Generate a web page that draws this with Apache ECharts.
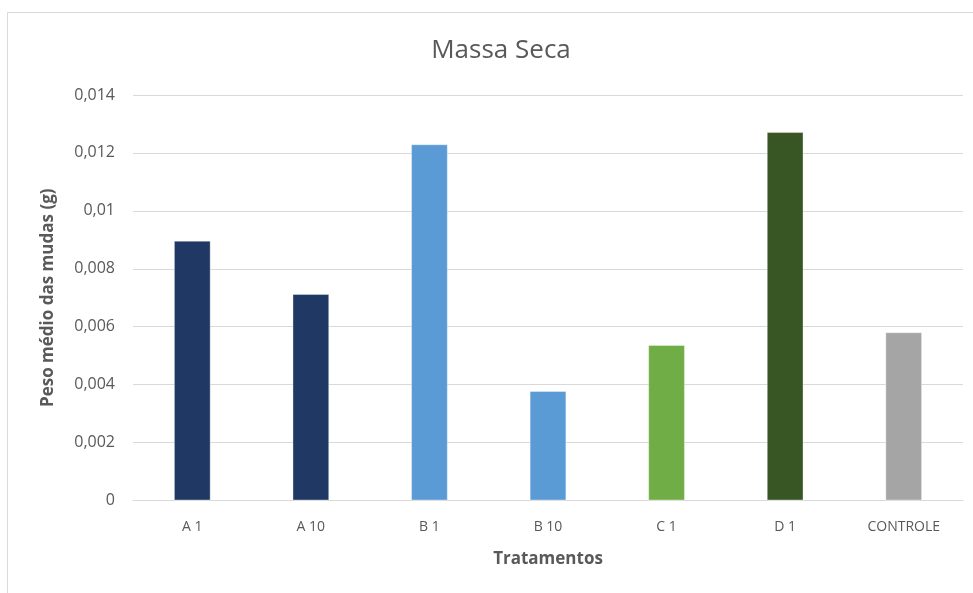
<!DOCTYPE html>
<html>
<head>
<meta charset="utf-8">
<script src="https://cdn.jsdelivr.net/npm/echarts@6/dist/echarts.min.js"></script>
<style>
  html, body { margin: 0; padding: 0; background: #fff; }
  #main { width: 973px; height: 593px; }
</style>
</head>
<body>
<div id="main"></div>
<script>
// dados
var categorias = ['A 1', 'A 10', 'B 1', 'B 10', 'C 1', 'D 1', 'CONTROLE'];
var valores = [0.00897, 0.00713, 0.0123, 0.00378, 0.00537, 0.01272, 0.00581];
var cores = ['#1F3864', '#1F3864', '#5B9BD5', '#5B9BD5', '#70AD47', '#375623', '#A5A5A5'];

var chart = echarts.init(document.getElementById('main'));

var fonte = '"Open Sans", "Noto Sans", sans-serif';

chart.setOption({
    animation: false,
    textStyle: { fontFamily: fonte },
    title: {
        text: 'Massa Seca',
        left: 496,
        top: 33,
        textAlign: 'center',
        textStyle: { fontSize: 26, fontWeight: 'normal', color: '#595959', fontFamily: fonte }
    },
    graphic: [{
        type: 'rect',
        shape: { x: 7.5, y: 12.5, width: 1000, height: 700 },
        style: { fill: 'none', stroke: '#d9d9d9', lineWidth: 1 },
        z: -1
    }],
    grid: { left: 133, right: 10, top: 95, bottom: 92.5 },
    xAxis: {
        type: 'category',
        data: categorias,
        name: 'Tratamentos',
        nameLocation: 'middle',
        nameGap: 50,
        nameTextStyle: { fontSize: 17, fontWeight: 'bold', color: '#595959' },
        axisLine: { lineStyle: { color: '#d9d9d9' } },
        axisTick: { show: false },
        axisLabel: { fontSize: 14, color: '#595959', margin: 20 }
    },
    yAxis: {
        type: 'value',
        min: 0,
        max: 0.014,
        interval: 0.002,
        name: 'Peso médio das mudas (g)',
        nameLocation: 'middle',
        nameGap: 76,
        nameTextStyle: { fontSize: 17, fontWeight: 'bold', color: '#595959' },
        axisLine: { show: false },
        axisTick: { show: false },
        splitLine: { lineStyle: { color: '#d9d9d9' } },
        axisLabel: {
            fontSize: 16,
            color: '#595959',
            margin: 18,
            formatter: function (v) {
                return String(parseFloat(v.toFixed(4))).replace('.', ',');
            }
        }
    },
    series: [{
        type: 'bar',
        barWidth: '31%',
        data: valores.map(function (v, i) {
            return { value: v, itemStyle: { color: cores[i], borderColor: 'rgba(255,255,255,0.35)', borderWidth: 1 } };
        })
    }]
});
</script>
</body>
</html>
